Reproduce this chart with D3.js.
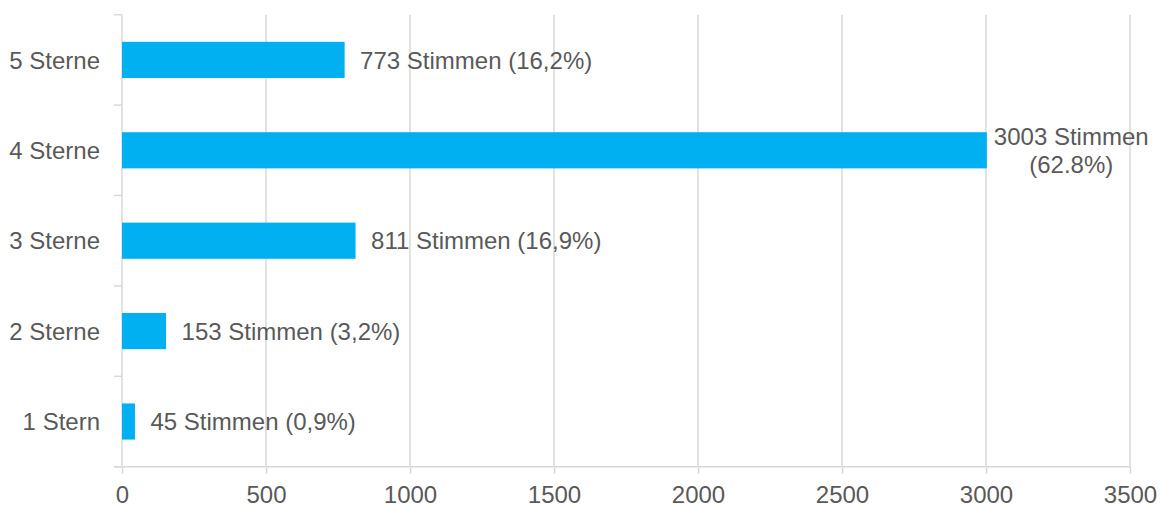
<!DOCTYPE html>
<html>
<head>
<meta charset="utf-8">
<script src="https://cdn.jsdelivr.net/npm/d3@7"></script>
<style>
  body { margin: 0; background: #fff; }
  text { font-family: "Liberation Sans", Arial, sans-serif; fill: #595959; }
</style>
</head>
<body>
<div id="chart"></div>
<script>
// data
var categories = ["5 Sterne", "4 Sterne", "3 Sterne", "2 Sterne", "1 Stern"];
var votes = [773, 3003, 811, 153, 45];
var barLabels = [
	["773 Stimmen (16,2%)"],
	["3003 Stimmen", "(62.8%)"],
	["811 Stimmen (16,9%)"],
	["153 Stimmen (3,2%)"],
	["45 Stimmen (0,9%)"]
];
var xTicks = [0, 500, 1000, 1500, 2000, 2500, 3000, 3500];

var width = 1162, height = 505;
var plotLeft = 122, plotRight = 1130, plotTop = 14.7, plotBottom = 466.7;
var gridColor = "#d9d9d9";
var fontSize = "24px";

var svg = d3.select("#chart").append("svg")
	.attr("width", width)
	.attr("height", height);

var xscale = d3.scaleLinear()
	.domain([0, 3500])
	.range([plotLeft, plotRight]);

var yscale = d3.scaleBand()
	.domain(categories)
	.range([plotTop, plotBottom])
	.paddingInner(0.6)
	.paddingOuter(0.3);

// vertical gridlines
svg.append("g")
	.selectAll("line")
	.data(xTicks.slice(1))
	.enter()
	.append("line")
	.attr("x1", function(d) { return xscale(d); })
	.attr("x2", function(d) { return xscale(d); })
	.attr("y1", plotTop)
	.attr("y2", plotBottom)
	.attr("stroke", gridColor)
	.attr("stroke-width", 1.5);

// bottom axis
var xAxis = svg.append("g")
	.attr("transform", "translate(0," + plotBottom + ")")
	.call(d3.axisBottom(xscale).tickValues(xTicks).tickFormat(d3.format("d"))
		.tickSize(7).tickSizeOuter(0).tickPadding(12));
xAxis.select(".domain").remove();
xAxis.selectAll("line").attr("stroke", gridColor).attr("stroke-width", 1.5);
xAxis.selectAll("text")
	.attr("font-size", fontSize)
	.attr("font-family", "Liberation Sans, Arial, sans-serif")
	.attr("fill", "#595959");
svg.append("line")
	.attr("x1", plotLeft - 8)
	.attr("x2", plotRight)
	.attr("y1", plotBottom)
	.attr("y2", plotBottom)
	.attr("stroke", gridColor)
	.attr("stroke-width", 1.5);

// left axis with ticks between categories
var step = yscale.step();
var bounds = d3.range(categories.length + 1).map(function(i) { return plotTop + i * step; });
svg.append("line")
	.attr("x1", plotLeft)
	.attr("x2", plotLeft)
	.attr("y1", plotTop)
	.attr("y2", plotBottom)
	.attr("stroke", gridColor)
	.attr("stroke-width", 1.5);
svg.append("g")
	.selectAll("line")
	.data(bounds)
	.enter()
	.append("line")
	.attr("x1", plotLeft - 8)
	.attr("x2", plotLeft)
	.attr("y1", function(d) { return d; })
	.attr("y2", function(d) { return d; })
	.attr("stroke", gridColor)
	.attr("stroke-width", 1.5);

svg.append("g")
	.selectAll("text")
	.data(categories)
	.enter()
	.append("text")
	.attr("x", 100)
	.attr("y", function(d) { return yscale(d) + yscale.bandwidth() / 2; })
	.attr("dy", "0.36em")
	.attr("text-anchor", "end")
	.attr("font-size", fontSize)
	.text(function(d) { return d; });

// bars
svg.append("g")
	.selectAll("rect")
	.data(votes)
	.enter()
	.append("rect")
	.attr("x", xscale(0))
	.attr("y", function(d, i) { return yscale(categories[i]); })
	.attr("width", function(d) { return xscale(d) - xscale(0); })
	.attr("height", yscale.bandwidth())
	.attr("fill", "#00B0F0");

// value labels
var labels = svg.append("g")
	.selectAll("text")
	.data(votes)
	.enter()
	.append("text")
	.attr("font-size", fontSize);

labels.each(function(d, i) {
	var t = d3.select(this);
	var lines = barLabels[i];
	var cy = yscale(categories[i]) + yscale.bandwidth() / 2;
	var lineH = 27.5;
	lines.forEach(function(s, j) {
		t.append("tspan")
			.attr("y", cy + (j - (lines.length - 1) / 2) * lineH)
			.attr("dy", "0.36em")
			.text(s);
	});
	if (lines.length === 1) {
		t.selectAll("tspan").attr("x", xscale(d) + 15.5);
	} else {
		var w = d3.max(t.selectAll("tspan").nodes(), function(n) { return n.getComputedTextLength(); });
		t.attr("text-anchor", "middle");
		t.selectAll("tspan").attr("x", xscale(d) + 7 + w / 2);
	}
});
</script>
</body>
</html>
